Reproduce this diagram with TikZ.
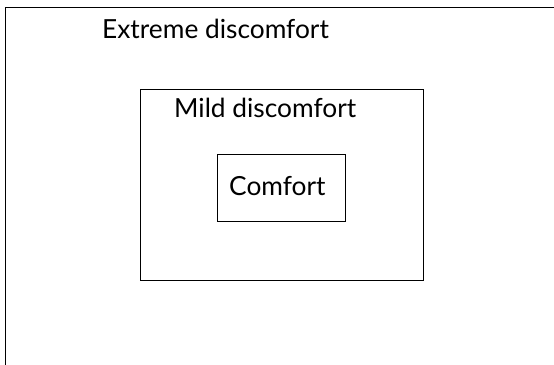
\documentclass[tikz,border=0pt]{standalone}
\usepackage{fontspec}
\setmainfont{Lato}
\begin{document}
\begin{tikzpicture}[x=1pt,y=-1pt,
  zone/.style={draw=black,line width=1.2pt,inner sep=0pt,anchor=north west},
  lbl/.style={font=\fontsize{26.3}{30}\selectfont,inner sep=0pt,anchor=base west}]
\useasboundingbox (0,0) rectangle (554,364);
\clip (0,0) rectangle (554,364);
\fill[white] (0,0) rectangle (554,364);
\node[zone,minimum width=580pt,minimum height=380pt] (extreme) at (5,7) {};
\node[zone,minimum width=283pt,minimum height=191pt] (mild) at (140,89) {};
\node[zone,minimum width=128pt,minimum height=67pt] (comfort) at (217,154) {};
\node[lbl] (textreme) at (102,38) {Extreme discomfort};
\node[lbl] (tmild) at (174,117) {Mild discomfort};
\node[lbl] (tcomfort) at (229,195) {Comfort};
\end{tikzpicture}
\end{document}
